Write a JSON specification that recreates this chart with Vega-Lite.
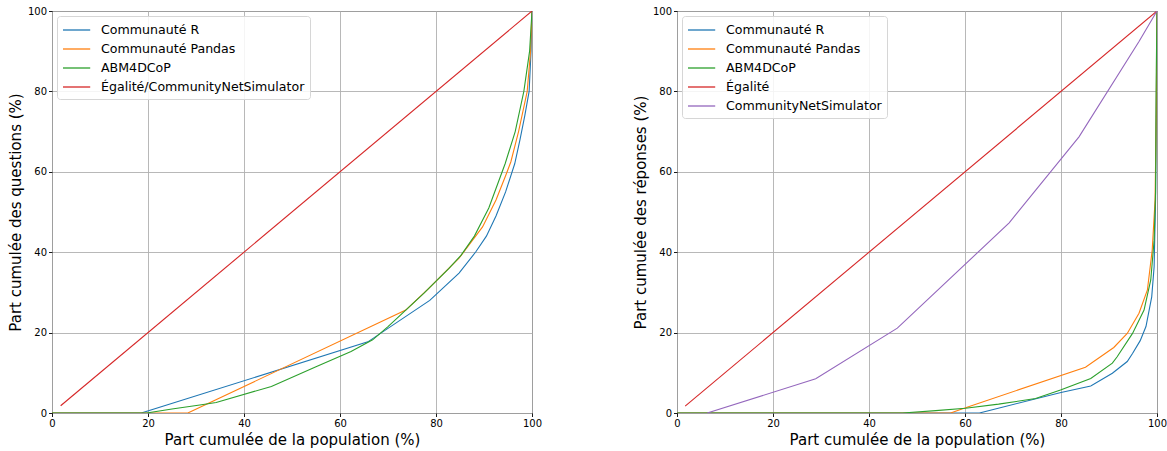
{
  "$schema": "https://vega.github.io/schema/vega-lite/v6.json",
  "padding": {"left": 7, "top": 5, "right": 0, "bottom": 0},
  "background": "white",
  "datasets": {
    "questions": [
      {"s": "Communauté R", "o": 0, "x": 0, "y": 0},
      {"s": "Communauté R", "o": 1, "x": 18.6, "y": 0},
      {"s": "Communauté R", "o": 2, "x": 65.8, "y": 17.7},
      {"s": "Communauté R", "o": 3, "x": 78.7, "y": 28},
      {"s": "Communauté R", "o": 4, "x": 84.8, "y": 34.8},
      {"s": "Communauté R", "o": 5, "x": 88.3, "y": 40.1},
      {"s": "Communauté R", "o": 6, "x": 90.5, "y": 44},
      {"s": "Communauté R", "o": 7, "x": 92.5, "y": 49},
      {"s": "Communauté R", "o": 8, "x": 94.5, "y": 55},
      {"s": "Communauté R", "o": 9, "x": 96.4, "y": 62},
      {"s": "Communauté R", "o": 10, "x": 97.5, "y": 68},
      {"s": "Communauté R", "o": 11, "x": 98.5, "y": 74},
      {"s": "Communauté R", "o": 12, "x": 99.4, "y": 80},
      {"s": "Communauté R", "o": 13, "x": 99.8, "y": 90},
      {"s": "Communauté R", "o": 14, "x": 100, "y": 100},
      {"s": "Communauté Pandas", "o": 0, "x": 0, "y": 0},
      {"s": "Communauté Pandas", "o": 1, "x": 28.3, "y": 0},
      {"s": "Communauté Pandas", "o": 2, "x": 73.7, "y": 25.6},
      {"s": "Communauté Pandas", "o": 3, "x": 78.5, "y": 31},
      {"s": "Communauté Pandas", "o": 4, "x": 84.8, "y": 38.5},
      {"s": "Communauté Pandas", "o": 5, "x": 89.7, "y": 46.3},
      {"s": "Communauté Pandas", "o": 6, "x": 92.5, "y": 53},
      {"s": "Communauté Pandas", "o": 7, "x": 94.5, "y": 59},
      {"s": "Communauté Pandas", "o": 8, "x": 95.6, "y": 62.5},
      {"s": "Communauté Pandas", "o": 9, "x": 97.2, "y": 70},
      {"s": "Communauté Pandas", "o": 10, "x": 99, "y": 80},
      {"s": "Communauté Pandas", "o": 11, "x": 99.7, "y": 90},
      {"s": "Communauté Pandas", "o": 12, "x": 100, "y": 100},
      {"s": "ABM4DCoP", "o": 0, "x": 0, "y": 0},
      {"s": "ABM4DCoP", "o": 1, "x": 19.7, "y": 0},
      {"s": "ABM4DCoP", "o": 2, "x": 25, "y": 1},
      {"s": "ABM4DCoP", "o": 3, "x": 30.8, "y": 2},
      {"s": "ABM4DCoP", "o": 4, "x": 34.2, "y": 2.6},
      {"s": "ABM4DCoP", "o": 5, "x": 45.7, "y": 6.6},
      {"s": "ABM4DCoP", "o": 6, "x": 55, "y": 11.5},
      {"s": "ABM4DCoP", "o": 7, "x": 62.3, "y": 15.3},
      {"s": "ABM4DCoP", "o": 8, "x": 66.8, "y": 18.2},
      {"s": "ABM4DCoP", "o": 9, "x": 70, "y": 21.5},
      {"s": "ABM4DCoP", "o": 10, "x": 73.7, "y": 25.6},
      {"s": "ABM4DCoP", "o": 11, "x": 77.5, "y": 29.8},
      {"s": "ABM4DCoP", "o": 12, "x": 82.7, "y": 36},
      {"s": "ABM4DCoP", "o": 13, "x": 85.2, "y": 39.2},
      {"s": "ABM4DCoP", "o": 14, "x": 88, "y": 44},
      {"s": "ABM4DCoP", "o": 15, "x": 91, "y": 51},
      {"s": "ABM4DCoP", "o": 16, "x": 94.4, "y": 62},
      {"s": "ABM4DCoP", "o": 17, "x": 96.5, "y": 70},
      {"s": "ABM4DCoP", "o": 18, "x": 98.3, "y": 80},
      {"s": "ABM4DCoP", "o": 19, "x": 99.5, "y": 90},
      {"s": "ABM4DCoP", "o": 20, "x": 100, "y": 100},
      {"s": "Égalité/CommunityNetSimulator", "o": 0, "x": 1.8, "y": 1.8},
      {"s": "Égalité/CommunityNetSimulator", "o": 1, "x": 100, "y": 100}
    ],
    "reponses": [
      {"s": "Communauté R", "o": 0, "x": 0, "y": 0},
      {"s": "Communauté R", "o": 1, "x": 63, "y": 0},
      {"s": "Communauté R", "o": 2, "x": 80, "y": 5.1},
      {"s": "Communauté R", "o": 3, "x": 86.2, "y": 6.7},
      {"s": "Communauté R", "o": 4, "x": 90.7, "y": 9.9},
      {"s": "Communauté R", "o": 5, "x": 93.8, "y": 12.8},
      {"s": "Communauté R", "o": 6, "x": 94.9, "y": 14.8},
      {"s": "Communauté R", "o": 7, "x": 96.5, "y": 18},
      {"s": "Communauté R", "o": 8, "x": 97.7, "y": 21.5},
      {"s": "Communauté R", "o": 9, "x": 98.9, "y": 28.9},
      {"s": "Communauté R", "o": 10, "x": 99.4, "y": 36.4},
      {"s": "Communauté R", "o": 11, "x": 99.7, "y": 53},
      {"s": "Communauté R", "o": 12, "x": 99.85, "y": 75},
      {"s": "Communauté R", "o": 13, "x": 100, "y": 100},
      {"s": "Communauté Pandas", "o": 0, "x": 0, "y": 0},
      {"s": "Communauté Pandas", "o": 1, "x": 57, "y": 0},
      {"s": "Communauté Pandas", "o": 2, "x": 59.8, "y": 1.2},
      {"s": "Communauté Pandas", "o": 3, "x": 85.1, "y": 11.4},
      {"s": "Communauté Pandas", "o": 4, "x": 91, "y": 16.3},
      {"s": "Communauté Pandas", "o": 5, "x": 93.8, "y": 19.8},
      {"s": "Communauté Pandas", "o": 6, "x": 96.25, "y": 24.8},
      {"s": "Communauté Pandas", "o": 7, "x": 98, "y": 30.6},
      {"s": "Communauté Pandas", "o": 8, "x": 99, "y": 40.5},
      {"s": "Communauté Pandas", "o": 9, "x": 99.6, "y": 53},
      {"s": "Communauté Pandas", "o": 10, "x": 99.85, "y": 75},
      {"s": "Communauté Pandas", "o": 11, "x": 100, "y": 100},
      {"s": "ABM4DCoP", "o": 0, "x": 0, "y": 0},
      {"s": "ABM4DCoP", "o": 1, "x": 47, "y": 0},
      {"s": "ABM4DCoP", "o": 2, "x": 53.9, "y": 0.6},
      {"s": "ABM4DCoP", "o": 3, "x": 60.1, "y": 1.2},
      {"s": "ABM4DCoP", "o": 4, "x": 67, "y": 2.2},
      {"s": "ABM4DCoP", "o": 5, "x": 74.7, "y": 3.6},
      {"s": "ABM4DCoP", "o": 6, "x": 79.9, "y": 5.7},
      {"s": "ABM4DCoP", "o": 7, "x": 86.2, "y": 8.6},
      {"s": "ABM4DCoP", "o": 8, "x": 90.7, "y": 12.4},
      {"s": "ABM4DCoP", "o": 9, "x": 91.7, "y": 14},
      {"s": "ABM4DCoP", "o": 10, "x": 94.9, "y": 19.8},
      {"s": "ABM4DCoP", "o": 11, "x": 97.3, "y": 25.6},
      {"s": "ABM4DCoP", "o": 12, "x": 98.7, "y": 33.1},
      {"s": "ABM4DCoP", "o": 13, "x": 99.4, "y": 43},
      {"s": "ABM4DCoP", "o": 14, "x": 99.7, "y": 55},
      {"s": "ABM4DCoP", "o": 15, "x": 99.85, "y": 85},
      {"s": "ABM4DCoP", "o": 16, "x": 100, "y": 100},
      {"s": "Égalité", "o": 0, "x": 1.7, "y": 1.7},
      {"s": "Égalité", "o": 1, "x": 100, "y": 100},
      {"s": "CommunityNetSimulator", "o": 0, "x": 6.3, "y": 0},
      {"s": "CommunityNetSimulator", "o": 1, "x": 28.9, "y": 8.5},
      {"s": "CommunityNetSimulator", "o": 2, "x": 45.9, "y": 21.1},
      {"s": "CommunityNetSimulator", "o": 3, "x": 69.2, "y": 47.3},
      {"s": "CommunityNetSimulator", "o": 4, "x": 83.75, "y": 68.7},
      {"s": "CommunityNetSimulator", "o": 5, "x": 96.25, "y": 92.4},
      {"s": "CommunityNetSimulator", "o": 6, "x": 100, "y": 100}
    ]
  },
  "hconcat": [
    {
      "width": 480,
      "height": 402,
      "data": {"name": "questions"},
      "mark": {"type": "line", "strokeWidth": 1.1, "clip": true},
      "encoding": {
        "x": {"field": "x", "type": "quantitative", "scale": {"domain": [0, 100], "nice": false}, "axis": {"title": "Part cumulée de la population (%)", "values": [0, 20, 40, 60, 80, 100]}},
        "y": {"field": "y", "type": "quantitative", "scale": {"domain": [0, 100], "nice": false}, "axis": {"title": "Part cumulée des questions (%)", "values": [0, 20, 40, 60, 80, 100]}},
        "color": {"field": "s", "type": "nominal", "scale": {"domain": ["Communauté R", "Communauté Pandas", "ABM4DCoP", "Égalité/CommunityNetSimulator"], "range": ["#1f77b4", "#ff7f0e", "#2ca02c", "#d62728"]}, "legend": {"title": null}},
        "order": {"field": "o", "type": "quantitative"}
      }
    },
    {
      "width": 480,
      "height": 402,
      "data": {"name": "reponses"},
      "mark": {"type": "line", "strokeWidth": 1.1, "clip": true},
      "encoding": {
        "x": {"field": "x", "type": "quantitative", "scale": {"domain": [0, 100], "nice": false}, "axis": {"title": "Part cumulée de la population (%)", "values": [0, 20, 40, 60, 80, 100]}},
        "y": {"field": "y", "type": "quantitative", "scale": {"domain": [0, 100], "nice": false}, "axis": {"title": "Part cumulée des réponses (%)", "values": [0, 20, 40, 60, 80, 100]}},
        "color": {"field": "s", "type": "nominal", "scale": {"domain": ["Communauté R", "Communauté Pandas", "ABM4DCoP", "Égalité", "CommunityNetSimulator"], "range": ["#1f77b4", "#ff7f0e", "#2ca02c", "#d62728", "#9467bd"]}, "legend": {"title": null}},
        "order": {"field": "o", "type": "quantitative"}
      }
    }
  ],
  "spacing": 89,
  "resolve": {"scale": {"color": "independent"}, "legend": {"color": "independent"}},
  "config": {
    "font": "DejaVu Sans",
    "view": {"stroke": "black", "strokeWidth": 1},
    "axis": {
      "grid": true,
      "gridColor": "#b0b0b0",
      "gridWidth": 0.9,
      "domain": false,
      "ticks": true,
      "tickColor": "black",
      "tickSize": 3.5,
      "tickWidth": 0.9,
      "labelFontSize": 10,
      "labelColor": "black",
      "labelPadding": 2,
      "labelFlush": false,
      "labelOverlap": false,
      "labelBound": false,
      "titleFontSize": 15,
      "titleFontWeight": "normal",
      "titleColor": "black",
      "titlePadding": 4
    },
    "legend": {
      "orient": "top-left",
      "offset": 5,
      "padding": 5,
      "strokeColor": "#d6d6d6",
      "fillColor": "rgba(255,255,255,0.85)",
      "cornerRadius": 3,
      "labelFontSize": 12.6,
      "labelColor": "black",
      "labelLimit": 0,
      "symbolType": "M-1,0H2.4",
      "symbolSize": 256,
      "symbolStrokeWidth": 1.3,
      "labelOffset": 21,
      "rowPadding": 3
    }
  }
}
